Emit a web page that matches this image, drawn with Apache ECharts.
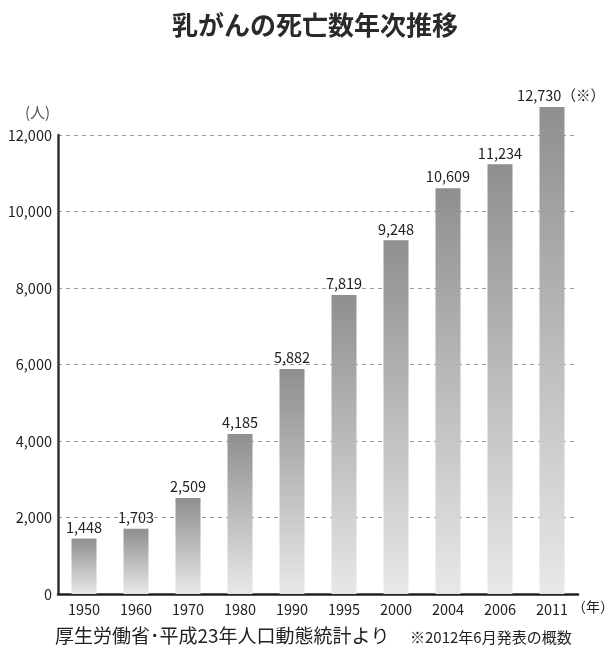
<!DOCTYPE html>
<html><head><meta charset="utf-8">
<script src="https://cdn.jsdelivr.net/npm/echarts@6/dist/echarts.min.js"></script>
<style>html,body{margin:0;padding:0;background:#fff}#c{width:607px;height:649px}</style>
</head><body><div id="c"></div>
<script>
const categories = ['1950','1960','1970','1980','1990','1995','2000','2004','2006','2011'];
const deaths = [1448, 1703, 2509, 4185, 5882, 7819, 9248, 10609, 11234, 12730];
const barLabels = ['1,448','1,703','2,509','4,185','5,882','7,819','9,248','10,609','11,234','12,730（※）'];
const yTicks = [0, 2000, 4000, 6000, 8000, 10000, 12000];

const font = '"Noto Sans CJK JP", "Noto Sans", sans-serif';
const chart = echarts.init(document.getElementById('c'));
const seriesData = deaths.map((v, i) => i === deaths.length - 1
  ? { value: v, label: { offset: [9, 0] } }
  : v);
chart.setOption({
  animation: false,
  backgroundColor: '#fff',
  title: {
    text: '乳がんの死亡数年次推移',
    left: 167, top: 7,
    textStyle: { fontFamily: font, fontSize: 26, fontWeight: 'bold', color: '#2a2a2a' }
  },
  grid: { left: 58, right: 29, top: 135, bottom: 55, containLabel: false },
  xAxis: {
    type: 'category',
    data: categories,
    axisLine: { lineStyle: { color: '#222', width: 2.5 } },
    axisTick: { show: false },
    axisLabel: { color: '#222', fontSize: 14.5, fontFamily: font, margin: 8 }
  },
  yAxis: {
    type: 'value',
    min: 0, max: 12000, interval: 2000,
    axisLine: { show: true, lineStyle: { color: '#333', width: 2.5 } },
    axisTick: { show: false },
    axisLabel: {
      color: '#222', fontSize: 14.5, fontFamily: font, margin: 6,
      formatter: v => yTicks.includes(v) ? v.toLocaleString('en-US') : ''
    },
    splitLine: { show: true, lineStyle: { color: '#999', type: [4, 4], width: 1 } }
  },
  series: [{
    type: 'bar',
    data: seriesData,
    barWidth: 25,
    clip: false,
    itemStyle: {
      color: new echarts.graphic.LinearGradient(0, 0, 0, 1, [
        { offset: 0, color: '#8f8f92' },
        { offset: 1, color: '#e8e8ea' }
      ])
    },
    label: {
      show: true, position: 'top', distance: 4,
      color: '#222', fontSize: 14.5, fontFamily: font,
      formatter: p => barLabels[p.dataIndex]
    }
  }],
  graphic: [
    { type: 'text', left: 25, top: 105, style: { text: '(人)', font: '15px ' + font, fill: '#555' } },
    { type: 'text', left: 572, top: 600, style: { text: '（年）', font: '14px ' + font, fill: '#222' } },
    { type: 'text', left: 55, top: 626, style: { text: '厚生労働省･平成23年人口動態統計より', font: '19px ' + font, fill: '#222' } },
    { type: 'text', left: 410, top: 630, style: { text: '※2012年6月発表の概数', font: '15px ' + font, fill: '#222' } }
  ]
});
</script></body></html>
